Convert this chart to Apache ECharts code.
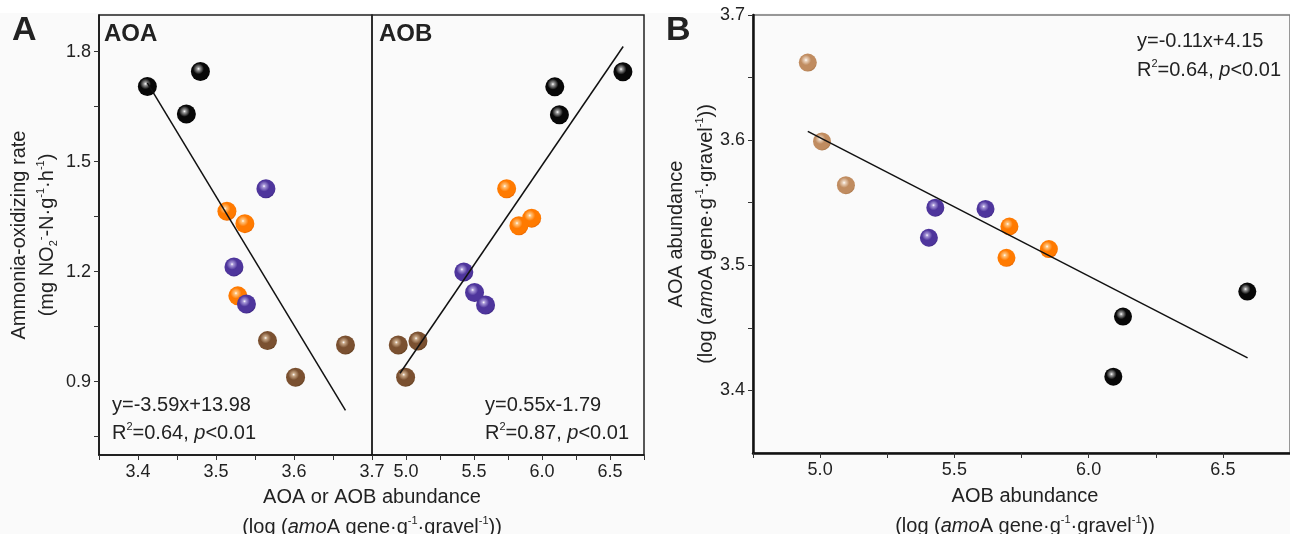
<!DOCTYPE html>
<html lang="en">
<head>
    <meta charset="UTF-8">
    <title>AOA / AOB abundance vs ammonia-oxidizing rate</title>
    <script src="https://cdn.jsdelivr.net/npm/echarts@6.0.0/dist/echarts.min.js"></script>
    <style>
        html, body { margin: 0; padding: 0; background: #fafafa; }
    </style>
</head>
<body>
    <div id="main" style="width: 1290px;height:534px;"></div>
    <script type="text/javascript">

        // panel A, left: AOA abundance vs rate
        const aoaBlack  = [[3.412, 1.705], [3.480, 1.746], [3.462, 1.630]];
        const aoaOrange = [[3.514, 1.365], [3.537, 1.331], [3.528, 1.134]];
        const aoaPurple = [[3.564, 1.426], [3.523, 1.213], [3.539, 1.112]];
        const aoaBrown  = [[3.566, 1.012], [3.666, 1.000], [3.602, 0.912]];
        const aoaFit    = [[3.412, 1.715], [3.666, 0.822]];

        // panel A, right: AOB abundance vs rate
        const aobBlack  = [[6.595, 1.745], [6.094, 1.704], [6.128, 1.628]];
        const aobOrange = [[5.740, 1.426], [5.924, 1.346], [5.830, 1.325]];
        const aobPurple = [[5.425, 1.199], [5.504, 1.143], [5.585, 1.109]];
        const aobBrown  = [[4.943, 1.000], [5.088, 1.011], [4.997, 0.912]];
        const aobFit    = [[4.956, 0.923], [6.597, 1.814]];

        // panel B: AOB vs AOA abundance
        const bBlack  = [[6.591, 3.479], [6.128, 3.459], [6.092, 3.411]];
        const bOrange = [[5.705, 3.531], [5.852, 3.513], [5.694, 3.506]];
        const bPurple = [[5.429, 3.546], [5.405, 3.522], [5.616, 3.545]];
        const bTan    = [[4.954, 3.662], [5.007, 3.599], [5.096, 3.564]];
        const bFit    = [[4.954, 3.607], [6.592, 3.426]];

        // tick labels
        const aoaXLabels = [3.4, 3.5, 3.6, 3.7];
        const aoaXTicks = [3.35, 3.4, 3.45, 3.5, 3.55, 3.6, 3.65, 3.7];
        const aobXLabels = [5.0, 5.5, 6.0, 6.5];
        const aobXTicks = [4.75, 5.0, 5.25, 5.5, 5.75, 6.0, 6.25, 6.5, 6.75];
        const rateLabels = [0.9, 1.2, 1.5, 1.8];
        const rateTicks = [0.75, 0.9, 1.05, 1.2, 1.35, 1.5, 1.65, 1.8];
        const bYLabels = [3.4, 3.5, 3.6, 3.7];
        const bYTicks = [3.4, 3.45, 3.5, 3.55, 3.6, 3.65, 3.7];

        const FONT = "'Liberation Sans', Arial, sans-serif";

        // shaded "ball" look for the markers
        function ball(hi, base, dark) {
            return {
                type: 'radial', x: 0.4, y: 0.36, r: 0.68,
                colorStops: [
                    { offset: 0, color: '#ffffff' },
                    { offset: 0.12, color: hi },
                    { offset: 0.42, color: base },
                    { offset: 0.85, color: base },
                    { offset: 1, color: dark }
                ]
            };
        }
        const BLACK = ball('#9a9a9a', '#080808', '#000000');
        const ORANGE = ball('#ffc27a', '#ff7a00', '#e06000');
        const PURPLE = ball('#a898d8', '#4e359c', '#36207a');
        const BROWN = ball('#c8a888', '#7a5030', '#5a3818');
        const TAN = ball('#ead2bc', '#c08c60', '#a67244');

        function dots(data, color, xi, size) {
            return {
                type: 'scatter', xAxisIndex: xi, yAxisIndex: xi, data: data,
                symbolSize: size, itemStyle: { color: color, opacity: 1 }, z: 3
            };
        }
        function fit(data, xi) {
            return {
                type: 'line', xAxisIndex: xi, yAxisIndex: xi, data: data,
                symbol: 'none', lineStyle: { color: '#111', width: 1.5 }, z: 4
            };
        }

        function axis(grid, min, max, labels, ticks, lineW) {
            return {
                type: 'value', gridIndex: grid, min: min, max: max,
                axisLine: { show: true, lineStyle: { color: '#111', width: lineW } },
                axisTick: { show: true, length: 5, customValues: ticks, lineStyle: { color: '#333' } },
                axisLabel: {
                    customValues: labels, margin: 8, color: '#222', fontSize: 18, fontFamily: FONT,
                    formatter: v => v.toFixed(1)
                },
                splitLine: { show: false }
            };
        }

        const rich = {
            n: { fontSize: 20, fontFamily: FONT, fill: '#222', lineHeight: 24 },
            i: { fontSize: 20, fontFamily: FONT, fill: '#222', fontStyle: 'italic', lineHeight: 24 },
            sup: { fontSize: 11, fontFamily: FONT, fill: '#222', verticalAlign: 'top', lineHeight: 14 },
            sub: { fontSize: 11, fontFamily: FONT, fill: '#222', verticalAlign: 'bottom', lineHeight: 14 }
        };
        function label(x, y, text, opts) {
            opts = opts || {};
            return {
                type: 'text', x: x, y: y, rotation: opts.rot || 0, z: 10,
                style: {
                    text: text, rich: rich,
                    font: opts.font || ('20px ' + FONT), fill: '#222',
                    align: opts.align || 'left', textAlign: opts.align || 'left',
                    verticalAlign: 'middle', textVerticalAlign: 'middle'
                }
            };
        }
        const amoa = '{n|(log (}{i|amo}{n|A gene·g}{sup|-1}{n|·gravel}{sup|-1}{n|))}';

        const myChart = echarts.init(document.getElementById('main'));

        const option = {
            backgroundColor: '#fafafa',
            animation: false,
            grid: [
                { left: 99, top: 15, width: 273, height: 440, show: true, borderColor: '#222', borderWidth: 1.5 },
                { left: 372, top: 15, width: 272, height: 440, show: true, borderColor: '#222', borderWidth: 1.5 },
                { left: 753, top: 15, width: 546, height: 438, show: true, borderColor: '#777', borderWidth: 1.5 }
            ],
            xAxis: [
                axis(0, 3.35, 3.7, aoaXLabels, aoaXTicks, 1.5),
                axis(1, 4.75, 6.75, aobXLabels, aobXTicks, 1.5),
                axis(2, 4.75, 6.75, aobXLabels, aobXTicks, 2.5)
            ],
            yAxis: [
                axis(0, 0.7, 1.9, rateLabels, rateTicks, 1.5),
                {
                    type: 'value', gridIndex: 1, min: 0.7, max: 1.9,
                    axisLine: { show: false }, axisTick: { show: false },
                    axisLabel: { show: false }, splitLine: { show: false }
                },
                axis(2, 3.35, 3.7, bYLabels, bYTicks, 2.5)
            ],
            series: [
                dots(aoaBlack, BLACK, 0, 19),
                dots(aoaOrange, ORANGE, 0, 19),
                dots(aoaPurple, PURPLE, 0, 19),
                dots(aoaBrown, BROWN, 0, 19),
                fit(aoaFit, 0),
                dots(aobBlack, BLACK, 1, 19),
                dots(aobOrange, ORANGE, 1, 19),
                dots(aobPurple, PURPLE, 1, 19),
                dots(aobBrown, BROWN, 1, 19),
                fit(aobFit, 1),
                dots(bBlack, BLACK, 2, 18),
                dots(bOrange, ORANGE, 2, 18),
                dots(bPurple, PURPLE, 2, 18),
                dots(bTan, TAN, 2, 18),
                fit(bFit, 2)
            ],
            graphic: [
                { type: 'rect', shape: { x: 0, y: 0, width: 1290, height: 13 }, style: { fill: '#ffffff' }, z: 0 },
                label(12, 31, 'A', { font: 'bold 34px ' + FONT }),
                label(666, 31, 'B', { font: 'bold 34px ' + FONT }),
                label(104, 34, 'AOA', { font: 'bold 24px ' + FONT }),
                label(379, 34, 'AOB', { font: 'bold 24px ' + FONT }),
                // panel A equations
                label(112, 405, '{n|y=-3.59x+13.98}'),
                label(112, 433, '{n|R}{sup|2}{n|=0.64, }{i|p}{n|<0.01}'),
                label(485, 405, '{n|y=0.55x-1.79}'),
                label(485, 433, '{n|R}{sup|2}{n|=0.87, }{i|p}{n|<0.01}'),
                // panel B equation
                label(1137, 41, '{n|y=-0.11x+4.15}'),
                label(1137, 70, '{n|R}{sup|2}{n|=0.64, }{i|p}{n|<0.01}'),
                // axis titles
                label(372, 497, '{n|AOA or AOB abundance}', { align: 'center' }),
                label(372, 527, amoa, { align: 'center' }),
                label(1025, 496, '{n|AOB abundance}', { align: 'center' }),
                label(1025, 526, amoa, { align: 'center' }),
                label(19, 235, '{n|Ammonia-oxidizing rate}', { align: 'center', rot: Math.PI / 2 }),
                label(47, 235, '{n|(mg NO}{sub|2}{sup|-}{n|-N·g}{sup|-1}{n|·h}{sup|-1}{n|)}', { align: 'center', rot: Math.PI / 2 }),
                label(676, 234, '{n|AOA abundance}', { align: 'center', rot: Math.PI / 2 }),
                label(706, 234, amoa, { align: 'center', rot: Math.PI / 2 })
            ]
        };

        myChart.setOption(option);
    </script>
</body>
</html>
